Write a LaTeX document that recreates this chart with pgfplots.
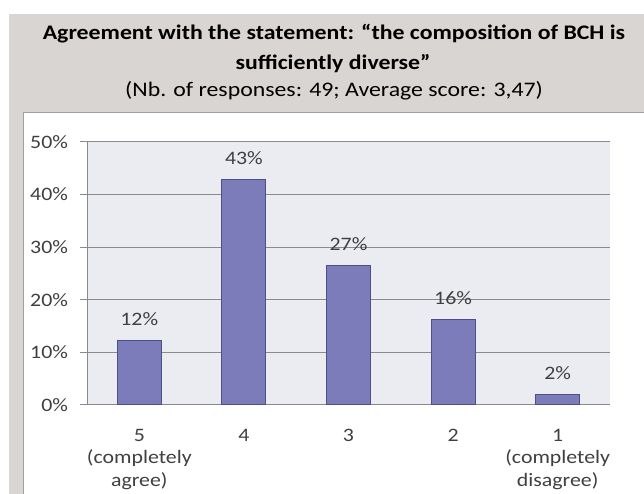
\documentclass[border=0pt]{standalone}
\usepackage{pgfplots}
\pgfplotsset{compat=1.18}
\usepackage{fontspec}
\setmainfont{Carlito}[FakeStretch=1.15]
\definecolor{bggrey}{RGB}{217,213,210}
\definecolor{boxline}{RGB}{160,160,160}
\definecolor{plotbg}{RGB}{235,235,242}
\definecolor{barfill}{RGB}{124,124,187}
\definecolor{baredge}{RGB}{78,78,136}
\definecolor{gridc}{RGB}{138,138,138}
\definecolor{txt}{RGB}{64,64,64}
\begin{document}
\begin{tikzpicture}
\path[use as bounding box] (0,0) rectangle (644bp,494bp);
\begin{scope}
\clip (0,0) rectangle (644bp,494bp);
\fill[bggrey] (9bp,0) rectangle (650bp,480bp);
\filldraw[fill=white,draw=boxline,line width=1bp] (23.5bp,-5bp) rectangle (650bp,381bp);
\end{scope}
\node[anchor=base,font=\fontsize{20.7bp}{25bp}\selectfont\bfseries] at (334bp,454bp) {Agreement with the statement: “the composition of BCH is};
\node[anchor=base,font=\fontsize{20.7bp}{25bp}\selectfont\bfseries] at (333bp,424bp) {sufficiently diverse”};
\node[anchor=base,font=\fontsize{20.7bp}{25bp}\selectfont] at (334bp,397bp) {(Nb. of responses: 49; Average score: 3,47)};
\begin{axis}[
  at={(87bp,89bp)}, anchor=south west,
  scale only axis, width=523bp, height=263bp,
  xmin=-0.5, xmax=4.5, ymin=0, ymax=50,
  axis background/.style={fill=plotbg},
  axis x line*=bottom, axis y line*=left,
  axis line style={draw=gridc, line width=1bp},
  ytick={0,10,20,30,40,50},
  yticklabel={\pgfmathprintnumber{\tick}\%},
  ymajorgrids, grid style={draw=gridc, line width=1bp},
  major tick style={draw=gridc, line width=1bp},
  tick align=outside,
  major tick length=6.5bp,
  xtick={0,1,2,3,4},
  xticklabels={{5\\(completely\\agree)},4,3,2,{1\\(completely\\disagree)}},
  xtick style={draw=none},
  extra x ticks={-0.5,0.5,1.5,2.5,3.5,4.5},
  extra x tick labels={},
  extra x tick style={tick style={draw=gridc, line width=1bp}, grid=none},
  ticklabel style={font=\fontsize{19bp}{22.6bp}\selectfont, text=txt},
  xticklabel style={align=center, yshift=-14bp},
  yticklabel style={xshift=-9bp},
  /pgf/number format/assume math mode=true,
  ybar, bar width=44bp,
  nodes near coords={\pgfmathprintnumber[fixed,precision=0]{\pgfplotspointmeta}\%},
  nodes near coords style={font=\fontsize{19bp}{22bp}\selectfont, text=txt, yshift=11bp},
  clip=false,
]
\addplot[fill=barfill, draw=baredge, line width=1bp] coordinates {(0,12.24) (1,42.86) (2,26.53) (3,16.33) (4,2.04)};
\end{axis}
\end{tikzpicture}
\end{document}
